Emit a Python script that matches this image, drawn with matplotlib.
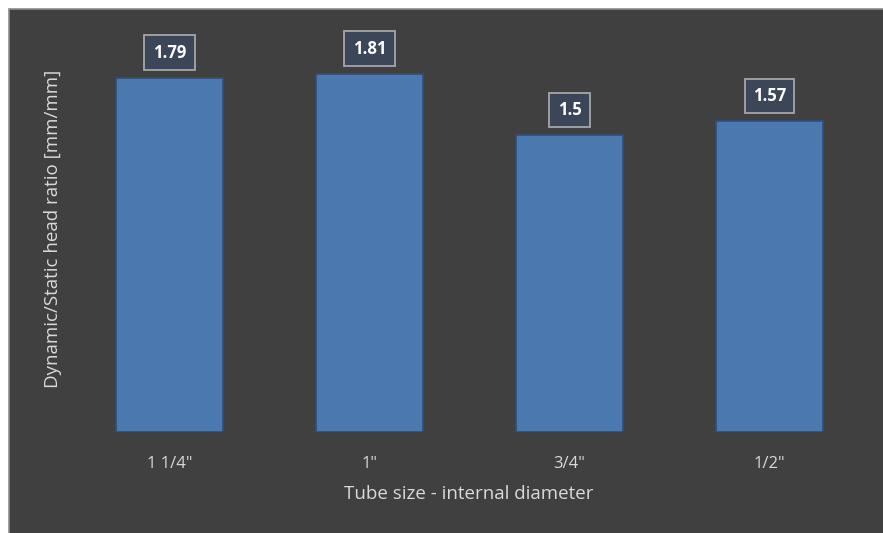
import matplotlib
matplotlib.use("Agg")
import matplotlib.pyplot as plt
from matplotlib.patches import Rectangle

categories = ['1 1/4"', '1"', '3/4"', '1/2"']
values = [1.79, 1.81, 1.5, 1.57]
value_labels = ["1.79", "1.81", "1.5", "1.57"]

W, H = 883, 533
fig = plt.figure(figsize=(W / 100, H / 100), dpi=100, facecolor="white")

bg = "#404040"
txt = "#D9D9D9"
fam = ["Open Sans", "DejaVu Sans"]

# chart background with thin gray border (white margin top/left)
bgax = fig.add_axes([0, 0, 1, 1], zorder=-5)
bgax.set_axis_off()
bgax.set_xlim(0, W)
bgax.set_ylim(H, 0)
bgax.add_patch(Rectangle((8.5, 8.5), W, H, facecolor=bg, edgecolor="#8C8C8C", linewidth=1.2))

left, right = 69.5 / W, 869.5 / W
bottom, top = (H - 432) / H, (H - 36) / H
ax = fig.add_axes([left, bottom, right - left, top - bottom], zorder=1)
ax.set_facecolor("none")

x = list(range(len(categories)))
bars = ax.bar(x, values, width=0.535, color="#4C78B0", edgecolor="#2B4F80", linewidth=1.2, zorder=2)

ax.set_xlim(-0.5, len(categories) - 0.5)
ax.set_ylim(0, 2.0)
for s in ax.spines.values():
    s.set_visible(False)
ax.set_yticks([])
ax.set_xticks(x)
ax.set_xticklabels(categories, color=txt, fontsize=12, family=fam)
ax.tick_params(axis="x", length=0, pad=17)

for xi, v, lab in zip(x, values, value_labels):
    ax.annotate(lab, (xi, v), xytext=(0, 25), textcoords="offset pixels",
                ha="center", va="center", fontsize=12, fontweight="bold",
                color="white", family=fam,
                bbox=dict(boxstyle="square,pad=0.5", facecolor="#3B4658",
                          edgecolor="#A6A6A6", linewidth=1.3), zorder=5)

fig.text(469 / W, 1 - 494 / H, "Tube size - internal diameter", ha="center", va="center",
         color=txt, fontsize=13.5, family=fam)
fig.text(53 / W, 1 - 229 / H, "Dynamic/Static head ratio [mm/mm]", ha="center", va="center",
         rotation=90, color=txt, fontsize=13.5, family=fam)

fig.savefig("out.png", dpi=100, facecolor=fig.get_facecolor())
